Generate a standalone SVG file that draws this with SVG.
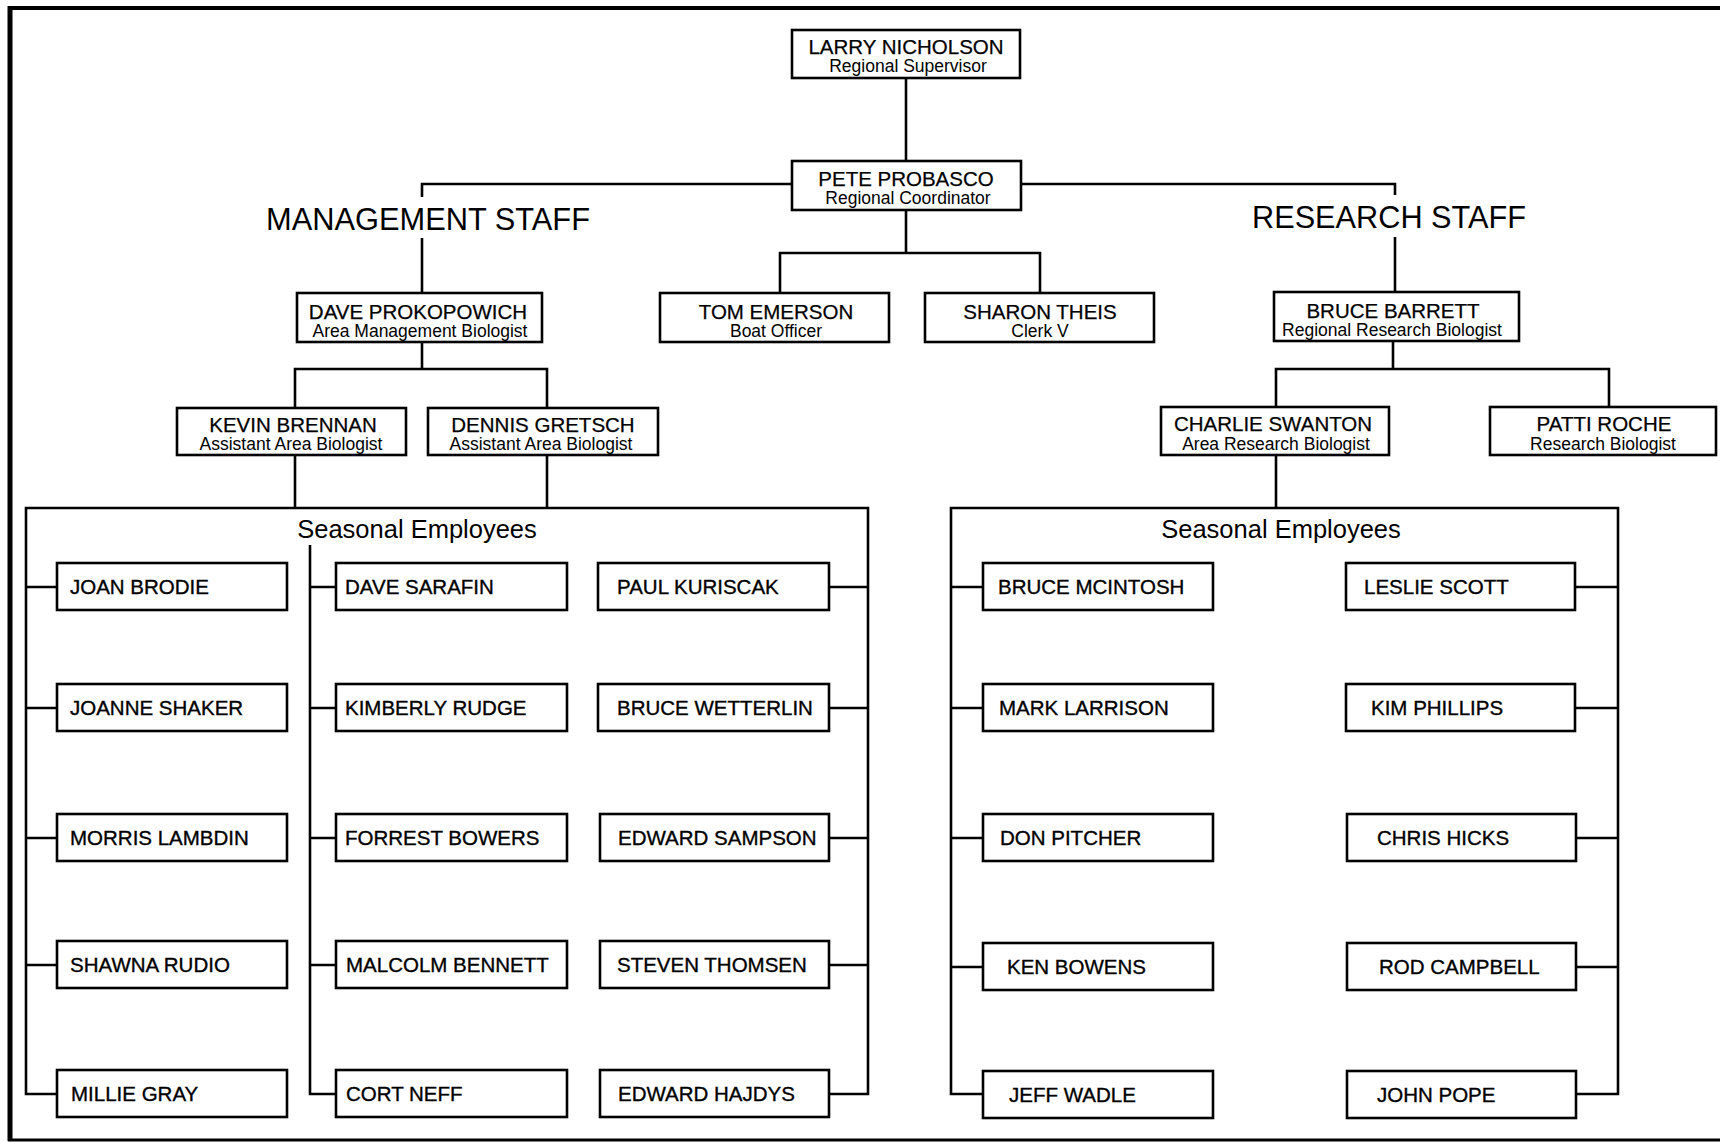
<svg xmlns="http://www.w3.org/2000/svg" width="1720" height="1142" viewBox="0 0 1720 1142">
<style>
  .box{fill:#fff;stroke:#000;stroke-width:2.6}
  .ln{fill:none;stroke:#000;stroke-width:2.6}
  .frame{fill:none;stroke:#000}
  text{font-family:"Liberation Sans",Arial,Helvetica,sans-serif;fill:#000}
  .nm{font-size:20.5px;text-anchor:middle;stroke:#000;stroke-width:0.25}
  .sub{font-size:17.5px;text-anchor:middle}
  .sn{font-size:20.5px;stroke:#000;stroke-width:0.35}
  .sec{font-size:32px;text-anchor:middle}
  .se{font-size:25.5px;text-anchor:middle}
</style>
<rect width="1720" height="1142" fill="#fff"/>
<g id="frame">
  <line class="frame" x1="10" y1="8" x2="1720" y2="8" stroke-width="4"/>
  <line class="frame" x1="10" y1="6" x2="10" y2="1141" stroke-width="5"/>
  <line class="frame" x1="8" y1="1140" x2="1720" y2="1140" stroke-width="3"/>
</g>
<g id="connectors">
  <path class="ln" d="M906,78 V161"/>
  <path class="ln" d="M792,184 H422 V197 M422,238 V293"/>
  <path class="ln" d="M1021,184 H1395 V195 M1395,237 V292"/>
  <path class="ln" d="M906,210 V253 M780,293 V253 H1040 V293"/>
  <path class="ln" d="M422,342 V369 M295,408 V369 H547 V408"/>
  <path class="ln" d="M1393,341 V369 M1276,407 V369 H1609 V407"/>
  <path class="ln" d="M295,455 V508 M547,455 V508 M1276,455 V508"/>
  <path class="ln" d="M57,1094 H26 V508 H868 V1094 H829"/>
  <path class="ln" d="M310,545 V1094 H336"/>
  <path class="ln" d="M26,587 H57 M26,708 H57 M26,838 H57 M26,965 H57"/>
  <path class="ln" d="M310,587 H336 M310,708 H336 M310,838 H336 M310,965 H336"/>
  <path class="ln" d="M829,587 H868 M829,708 H868 M829,838 H868 M829,965 H868"/>
  <path class="ln" d="M983,1094 H951 V508 H1618 V1094 H1576"/>
  <path class="ln" d="M951,587 H983 M951,708 H983 M951,838 H983 M951,967 H983"/>
  <path class="ln" d="M1576,587 H1618 M1576,708 H1618 M1576,838 H1618 M1576,967 H1618"/>
</g>
<g id="labels">
  <text class="sec" x="428" y="230" textLength="324" lengthAdjust="spacingAndGlyphs">MANAGEMENT STAFF</text>
  <text class="sec" x="1389" y="228" textLength="274" lengthAdjust="spacingAndGlyphs">RESEARCH STAFF</text>
  <text class="se" x="417" y="538">Seasonal Employees</text>
  <text class="se" x="1281" y="538">Seasonal Employees</text>
</g>
<g id="larry"><rect class="box" x="792" y="30" width="228" height="48"/><text class="nm" x="906" y="54">LARRY NICHOLSON</text><text class="sub" x="908" y="72">Regional Supervisor</text></g>
<g id="pete"><rect class="box" x="792" y="161" width="229" height="49"/><text class="nm" x="906" y="186">PETE PROBASCO</text><text class="sub" x="908" y="204">Regional Coordinator</text></g>
<g id="dave-p"><rect class="box" x="297" y="293" width="245" height="49"/><text class="nm" x="418" y="319">DAVE PROKOPOWICH</text><text class="sub" x="420" y="337">Area Management Biologist</text></g>
<g id="tom"><rect class="box" x="660" y="293" width="229" height="49"/><text class="nm" x="776" y="319">TOM EMERSON</text><text class="sub" x="776" y="337">Boat Officer</text></g>
<g id="sharon"><rect class="box" x="925" y="293" width="229" height="49"/><text class="nm" x="1040" y="319">SHARON THEIS</text><text class="sub" x="1040" y="337">Clerk V</text></g>
<g id="bruce-b"><rect class="box" x="1274" y="292" width="245" height="49"/><text class="nm" x="1393" y="318">BRUCE BARRETT</text><text class="sub" x="1392" y="336">Regional Research Biologist</text></g>
<g id="kevin"><rect class="box" x="177" y="408" width="229" height="47"/><text class="nm" x="293" y="432">KEVIN BRENNAN</text><text class="sub" x="291" y="450">Assistant Area Biologist</text></g>
<g id="dennis"><rect class="box" x="428" y="408" width="230" height="47"/><text class="nm" x="543" y="432">DENNIS GRETSCH</text><text class="sub" x="541" y="450">Assistant Area Biologist</text></g>
<g id="charlie"><rect class="box" x="1161" y="407" width="228" height="48"/><text class="nm" x="1273" y="431">CHARLIE SWANTON</text><text class="sub" x="1276" y="450">Area Research Biologist</text></g>
<g id="patti"><rect class="box" x="1490" y="407" width="226" height="48"/><text class="nm" x="1604" y="431">PATTI ROCHE</text><text class="sub" x="1603" y="450">Research Biologist</text></g>

<g id="joan-brodie"><rect class="box" x="57" y="563" width="230" height="47"/><text class="sn" x="70" y="594">JOAN BRODIE</text></g>
<g id="joanne-shaker"><rect class="box" x="57" y="684" width="230" height="47"/><text class="sn" x="70" y="715">JOANNE SHAKER</text></g>
<g id="morris-lambdin"><rect class="box" x="57" y="814" width="230" height="47"/><text class="sn" x="70" y="845">MORRIS LAMBDIN</text></g>
<g id="shawna-rudio"><rect class="box" x="57" y="941" width="230" height="47"/><text class="sn" x="70" y="972">SHAWNA RUDIO</text></g>
<g id="millie-gray"><rect class="box" x="57" y="1070" width="230" height="47"/><text class="sn" x="71" y="1101">MILLIE GRAY</text></g>

<g id="dave-sarafin"><rect class="box" x="336" y="563" width="231" height="47"/><text class="sn" x="345" y="594">DAVE SARAFIN</text></g>
<g id="kimberly-rudge"><rect class="box" x="336" y="684" width="231" height="47"/><text class="sn" x="345" y="715">KIMBERLY RUDGE</text></g>
<g id="forrest-bowers"><rect class="box" x="336" y="814" width="231" height="47"/><text class="sn" x="345" y="845">FORREST BOWERS</text></g>
<g id="malcolm-bennett"><rect class="box" x="336" y="941" width="231" height="47"/><text class="sn" x="346" y="972">MALCOLM BENNETT</text></g>
<g id="cort-neff"><rect class="box" x="336" y="1070" width="231" height="47"/><text class="sn" x="346" y="1101">CORT NEFF</text></g>

<g id="paul-kuriscak"><rect class="box" x="598" y="563" width="231" height="47"/><text class="sn" x="617" y="594">PAUL KURISCAK</text></g>
<g id="bruce-wetterlin"><rect class="box" x="598" y="684" width="231" height="47"/><text class="sn" x="617" y="715">BRUCE WETTERLIN</text></g>
<g id="edward-sampson"><rect class="box" x="600" y="814" width="229" height="47"/><text class="sn" x="618" y="845">EDWARD SAMPSON</text></g>
<g id="steven-thomsen"><rect class="box" x="600" y="941" width="229" height="47"/><text class="sn" x="617" y="972">STEVEN THOMSEN</text></g>
<g id="edward-hajdys"><rect class="box" x="600" y="1070" width="229" height="47"/><text class="sn" x="618" y="1101">EDWARD HAJDYS</text></g>

<g id="bruce-mcintosh"><rect class="box" x="983" y="563" width="230" height="47"/><text class="sn" x="998" y="594">BRUCE MCINTOSH</text></g>
<g id="mark-larrison"><rect class="box" x="983" y="684" width="230" height="47"/><text class="sn" x="999" y="715">MARK LARRISON</text></g>
<g id="don-pitcher"><rect class="box" x="983" y="814" width="230" height="47"/><text class="sn" x="1000" y="845">DON PITCHER</text></g>
<g id="ken-bowens"><rect class="box" x="983" y="943" width="230" height="47"/><text class="sn" x="1007" y="974">KEN BOWENS</text></g>
<g id="jeff-wadle"><rect class="box" x="983" y="1071" width="230" height="47"/><text class="sn" x="1009" y="1102">JEFF WADLE</text></g>

<g id="leslie-scott"><rect class="box" x="1346" y="563" width="229" height="47"/><text class="sn" x="1364" y="594">LESLIE SCOTT</text></g>
<g id="kim-phillips"><rect class="box" x="1346" y="684" width="229" height="47"/><text class="sn" x="1371" y="715">KIM PHILLIPS</text></g>
<g id="chris-hicks"><rect class="box" x="1347" y="814" width="229" height="47"/><text class="sn" x="1377" y="845">CHRIS HICKS</text></g>
<g id="rod-campbell"><rect class="box" x="1347" y="943" width="229" height="47"/><text class="sn" x="1379" y="974">ROD CAMPBELL</text></g>
<g id="john-pope"><rect class="box" x="1347" y="1071" width="229" height="47"/><text class="sn" x="1377" y="1102">JOHN POPE</text></g>
</svg>
